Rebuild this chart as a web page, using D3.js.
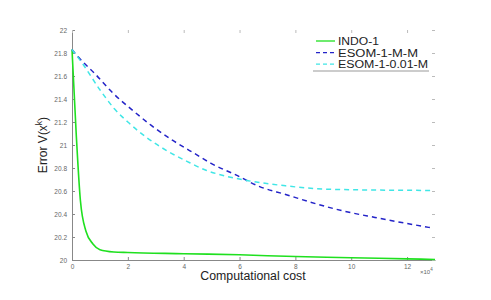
<!DOCTYPE html>
<html><head><meta charset="utf-8">
<script src="https://cdn.jsdelivr.net/npm/d3@7"></script>
<style>body{margin:0;background:#fff}svg{display:block}</style>
</head><body>
<svg id="c" width="491" height="300"></svg>
<script>
const xTicks = [0, 2, 4, 6, 8, 10, 12];
const yTicks = [20, 20.2, 20.4, 20.6, 20.8, 21, 21.2, 21.4, 21.6, 21.8, 22];
const seriesNames = ["INDO-1", "ESOM-1-M-M", "ESOM-1-0.01-M"];
const indoX = [0, 0.15, 0.3, 0.5, 0.75, 1.0, 1.5, 2, 4, 6, 8, 10, 12, 13];
const indoY = [21.83, 21.1, 20.52, 20.25, 20.14, 20.09, 20.07, 20.065, 20.055, 20.045, 20.03, 20.02, 20.01, 20.005];
const esomMX = [0, 0.17, 0.82, 1.47, 2.13, 2.84, 3.61, 4.5, 4.98, 5.87, 6.7, 7.65, 8.72, 9.65, 10.85, 12.86];
const esomMY = [21.83, 21.78, 21.62, 21.45, 21.31, 21.17, 21.04, 20.91, 20.84, 20.74, 20.64, 20.57, 20.49, 20.43, 20.37, 20.28];
const esom001X = [0, 0.4, 1.0, 1.5, 2.0, 2.7, 3.4, 4.1, 4.8, 5.5, 6.3, 7.65, 8.77, 10.26, 12.86];
const esom001Y = [21.83, 21.7, 21.48, 21.32, 21.2, 21.06, 20.95, 20.86, 20.78, 20.73, 20.69, 20.645, 20.62, 20.61, 20.605];

const svg = d3.select("#c");
const L = 72, R = 435, T = 30, B = 260;
const x = d3.scaleLinear().domain([0, 13]).range([L, R]);
const y = d3.scaleLinear().domain([20, 22]).range([B, T]);
const tickCol = "#888", labCol = "#666";
const tickFont = "6.5px Arial, 'Liberation Sans', sans-serif";

// bottom axis
const gx = svg.append("g").attr("transform", `translate(0,${B})`)
  .call(d3.axisBottom(x).tickValues(xTicks).tickSizeInner(-3).tickSizeOuter(0).tickPadding(4));
gx.select(".domain").attr("stroke", tickCol);
gx.selectAll(".tick line").attr("stroke", tickCol);
gx.selectAll("text").attr("fill", labCol).style("font", tickFont);

// left axis
const gy = svg.append("g").attr("transform", `translate(${L},0)`)
  .call(d3.axisLeft(y).tickValues(yTicks).tickSizeInner(-3).tickSizeOuter(0).tickPadding(5).tickFormat(d3.format("~g")));
gy.select(".domain").attr("stroke", tickCol);
gy.selectAll(".tick line").attr("stroke", tickCol);
gy.selectAll("text").attr("fill", labCol).style("font", tickFont);

// faint top and right ticks
const gt = svg.append("g").attr("transform", `translate(0,${T})`)
  .call(d3.axisTop(x).tickValues(xTicks).tickSizeInner(-3).tickSizeOuter(0).tickFormat(""));
gt.select(".domain").attr("stroke", "none");
gt.selectAll(".tick line").attr("stroke", "#bbb");
const gr = svg.append("g").attr("transform", `translate(${R},0)`)
  .call(d3.axisRight(y).tickValues(yTicks).tickSizeInner(-3).tickSizeOuter(0).tickFormat(""));
gr.select(".domain").attr("stroke", "none");
gr.selectAll(".tick line").attr("stroke", "#bbb");

const line = d3.line().x(d => x(d[0])).y(d => y(d[1])).curve(d3.curveMonotoneX);
const series = [
  {xs: indoX, ys: indoY, color: "#1fe01f", dash: null, w: 1.6},
  {xs: esomMX, ys: esomMY, color: "#2323c8", dash: "5,4", w: 1.5},
  {xs: esom001X, ys: esom001Y, color: "#40e6e6", dash: "5,4", w: 1.5}
];
series.forEach(s => {
  svg.append("path").datum(s.xs.map((v, i) => [v, s.ys[i]]))
    .attr("d", line).attr("fill", "none").attr("stroke", s.color)
    .attr("stroke-width", s.w).attr("stroke-dasharray", s.dash);
});

// x10^4
const mult = svg.append("text").attr("x", 420).attr("y", 274).attr("fill", labCol)
  .style("font", "6px Arial, 'Liberation Sans', sans-serif").text("×10");
mult.append("tspan").attr("dy", -3).style("font-size", "4.5px").text("4");

// axis labels
svg.append("text").attr("x", 253).attr("y", 280).attr("text-anchor", "middle")
  .attr("fill", "#222").style("font", "12.3px Arial, 'Liberation Sans', sans-serif").text("Computational cost");
const yl = svg.append("text").attr("transform", "translate(47,145) rotate(-90)").attr("text-anchor", "middle")
  .attr("fill", "#222").style("font", "12px Arial, 'Liberation Sans', sans-serif");
yl.append("tspan").text("Error V(x");
yl.append("tspan").attr("dy", -5).style("font-size", "8.5px").text("k");
yl.append("tspan").attr("dy", 5).text(")");

// legend
const legendWidths = [41, 80, 90];
const lg = svg.append("g");
lg.append("line").attr("x1", 313).attr("x2", 429).attr("y1", 71).attr("y2", 71).attr("stroke", "#999");
series.forEach((s, i) => {
  const yy = 41 + i * 11.6;
  lg.append("line").attr("x1", 316).attr("x2", 335).attr("y1", yy).attr("y2", yy)
    .attr("stroke", s.color).attr("stroke-width", 1.3).attr("stroke-dasharray", s.dash ? "4,3" : null);
  lg.append("text").attr("x", 338).attr("y", yy + 4).attr("fill", "#222")
    .attr("textLength", legendWidths[i]).attr("lengthAdjust", "spacingAndGlyphs")
    .style("font", "10px Arial, 'Liberation Sans', sans-serif").text(seriesNames[i]);
});
</script>
</body></html>
